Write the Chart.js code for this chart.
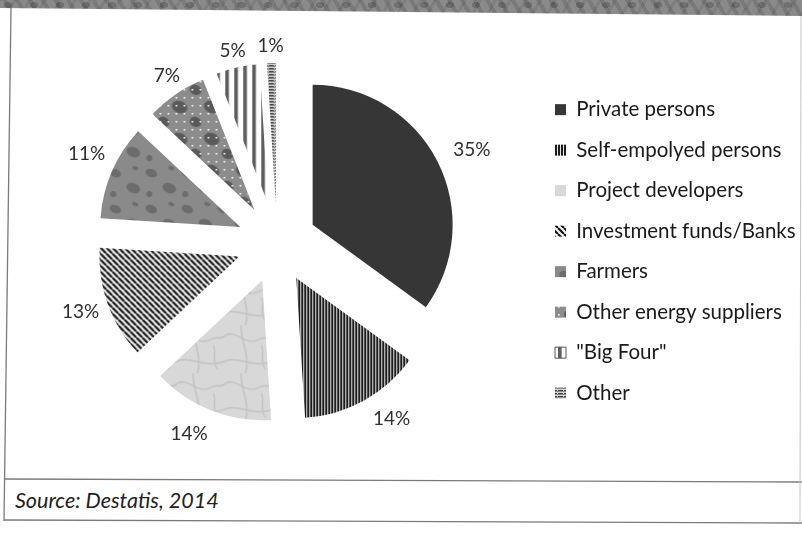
<!DOCTYPE html>
<html>
<head>
<meta charset="utf-8">
<script src="https://cdn.jsdelivr.net/npm/chart.js@4.4.0/dist/chart.umd.min.js"></script>
<style>
  html, body { margin: 0; padding: 0; background: #fff; }
  #page { position: relative; width: 802px; height: 534px; overflow: hidden; background: #fff; font-family: Lato, sans-serif; }
  #band {
    position: absolute; left: 0; top: 0; width: 802px; height: 18px;
    background-color: #8a8a8a;
    background-image:
      radial-gradient(ellipse 7px 5px at 8px 5px, rgba(0,0,0,0.18) 60%, transparent 62%),
      repeating-linear-gradient(60deg, rgba(0,0,0,0.12) 0 4px, transparent 4px 11px),
      repeating-linear-gradient(-60deg, rgba(0,0,0,0.08) 0 3px, transparent 3px 13px);
    background-size: 26px 14px, auto, auto;
    clip-path: polygon(0 0, 100% 0, 100% 16px, 0 8px);
  }
  #frame { position: absolute; left: 0; top: 0; }
  #chart { position: absolute; left: 0; top: 0; }
  #source { position: absolute; left: 15px; top: 487px; font-style: italic; font-size: 21.5px; color: #222; }
</style>
</head>
<body>
<div id="page">
  <div id="band"></div>
  <svg id="frame" width="802" height="534">
    <line x1="11" y1="8" x2="4" y2="521" stroke="#7a7a7a" stroke-width="1.3"/>
    <line x1="4" y1="479" x2="802" y2="482" stroke="#7a7a7a" stroke-width="1.3"/>
    <line x1="4" y1="520" x2="802" y2="523" stroke="#7a7a7a" stroke-width="1.3"/>
    <line x1="801" y1="16" x2="800" y2="523" stroke="#c4c4c4" stroke-width="1"/>
  </svg>
  <canvas id="chart" width="802" height="480"></canvas>
  <div id="source">Source: Destatis, 2014</div>
</div>
<script>
// Ownership of installed renewable capacity, shares in percent
const categories = [
  'Private persons',
  'Self-empolyed persons',
  'Project developers',
  'Investment funds/Banks',
  'Farmers',
  'Other energy suppliers',
  '"Big Four"',
  'Other'
];
const shares = [35, 14, 14, 13, 11, 7, 5, 1];

// small tiles used as fill patterns for the slices
function makePattern(w, h, paint) {
  const c = document.createElement('canvas');
  c.width = w;
  c.height = h;
  const g = c.getContext('2d');
  paint(g, w, h);
  return g.createPattern(c, 'repeat');
}

function blob(g, x, y, rx, ry) {
  g.beginPath();
  g.ellipse(x, y, rx, ry, 0.4, 0, Math.PI * 2);
  g.fill();
}

const solidDark = '#363636';

const vertStripes = makePattern(3, 1, g => {
  g.fillStyle = '#e8e8e8';
  g.fillRect(0, 0, 3, 1);
  g.fillStyle = '#1c1c1c';
  g.fillRect(0, 0, 2, 1);
});

const marble = makePattern(48, 48, g => {
  g.fillStyle = '#d8d8d8';
  g.fillRect(0, 0, 48, 48);
  g.strokeStyle = '#c2c2c2';
  g.lineWidth = 1.4;
  g.beginPath();
  g.moveTo(0, 10); g.bezierCurveTo(12, 4, 20, 22, 34, 14); g.bezierCurveTo(40, 10, 44, 16, 48, 10);
  g.moveTo(16, 0); g.bezierCurveTo(14, 14, 26, 30, 20, 48);
  g.moveTo(0, 36); g.bezierCurveTo(10, 30, 30, 44, 48, 36);
  g.moveTo(36, 20); g.bezierCurveTo(40, 28, 34, 36, 40, 44);
  g.stroke();
});

const diagStripes = makePattern(6, 6, g => {
  g.fillStyle = '#f4f4f4';
  g.fillRect(0, 0, 6, 6);
  g.strokeStyle = '#141414';
  g.lineWidth = 2.2;
  g.beginPath();
  [-6, 0, 6].forEach(k => { g.moveTo(k, 0); g.lineTo(k + 6, 6); });
  g.stroke();
});

const farmerTexture = makePattern(36, 36, g => {
  g.fillStyle = '#8a8a8a';
  g.fillRect(0, 0, 36, 36);
  g.fillStyle = '#6c6c6c';
  blob(g, 8, 9, 6, 4);
  blob(g, 26, 24, 7, 5);
  blob(g, 28, 4, 3, 2);
  blob(g, 6, 30, 3, 3);
});

const dottedTexture = makePattern(32, 32, g => {
  g.fillStyle = '#8c8c8c';
  g.fillRect(0, 0, 32, 32);
  g.fillStyle = '#5a5a5a';
  blob(g, 10, 12, 8, 6);
  blob(g, 26, 27, 6, 5);
  g.fillStyle = '#ffffff';
  for (let y = 2; y < 32; y += 8) {
    const shift = (y / 8) % 2 ? 4 : 0;
    for (let x = 2 + shift; x < 32; x += 8) g.fillRect(x, y, 1.6, 1.6);
  }
});

const wideStripes = makePattern(9, 1, g => {
  g.fillStyle = '#ffffff';
  g.fillRect(0, 0, 9, 1);
  g.fillStyle = '#5e5e5e';
  g.fillRect(0, 0, 3, 1);
  g.fillStyle = '#999999';
  g.fillRect(3, 0, 1, 1);
});

const horizDashes = makePattern(6, 3, g => {
  g.fillStyle = '#d4d4d4';
  g.fillRect(0, 0, 6, 3);
  g.fillStyle = '#3e3e3e';
  g.fillRect(0, 0, 5, 1);
  g.fillStyle = '#8a8a8a';
  g.fillRect(0, 1, 6, 1);
});

const sliceFills = [solidDark, vertStripes, marble, diagStripes, farmerTexture, dottedTexture, wideStripes, horizDashes];

// pull every slice away from the centre by the same distance
const explodePlugin = {
  id: 'explode',
  beforeDatasetDraw(chart, args, opts) {
    const ctx = chart.ctx;
    args.meta.data.forEach(arc => {
      const mid = (arc.startAngle + arc.endAngle) / 2;
      ctx.save();
      ctx.translate(Math.cos(mid) * opts.distance, Math.sin(mid) * opts.distance);
      arc.draw(ctx);
      ctx.restore();
    });
    return false;
  }
};

// percentage labels just outside each exploded slice
const outsideLabels = {
  id: 'outsideLabels',
  afterDatasetsDraw(chart, args, opts) {
    const ctx = chart.ctx;
    const meta = chart.getDatasetMeta(0);
    const values = chart.data.datasets[0].data;
    ctx.save();
    ctx.font = opts.font;
    ctx.fillStyle = opts.color;
    ctx.textAlign = 'center';
    ctx.textBaseline = 'middle';
    meta.data.forEach((arc, i) => {
      const mid = (arc.startAngle + arc.endAngle) / 2;
      const dx = Math.cos(mid);
      const dy = Math.sin(mid);
      const text = values[i] + '%';
      const halfW = ctx.measureText(text).width / 2;
      const r = arc.outerRadius + opts.explode + opts.gap;
      const nudge = opts.nudge[i] || [0, 0];
      const x = arc.x + dx * r + dx * halfW + nudge[0];
      const y = arc.y + dy * r + dy * opts.halfHeight + nudge[1];
      ctx.fillText(text, x, y + 1);
    });
    ctx.restore();
  }
};

new Chart(document.getElementById('chart'), {
  type: 'pie',
  data: {
    labels: categories,
    datasets: [{
      data: shares,
      backgroundColor: sliceFills,
      borderWidth: 0
    }]
  },
  options: {
    responsive: false,
    animation: false,
    radius: 140,
    layout: { padding: { left: 19, right: 0, top: 20, bottom: 14 } },
    plugins: {
      explode: { distance: 40 },
      outsideLabels: {
        explode: 40,
        gap: 10,
        halfHeight: 8,
        font: '19px Lato',
        color: '#2e2e2e',
        // label boxes sit a little off the radial line for a few slices
        nudge: [[9, -4], [14, 1], [-11, 6], [0, 1], [1, -11], [4, -4], [0, 0], [0, 0]]
      },
      tooltip: { enabled: false },
      legend: {
        position: 'right',
        maxWidth: 267,
        title: { display: true, text: '', font: { size: 14 }, padding: 0 },
        labels: {
          boxWidth: 11,
          boxHeight: 11,
          padding: 20,
          color: '#1a1a1a',
          font: { family: 'Lato', size: 20.5 },
          generateLabels(chart) {
            const items = Chart.overrides.pie.plugins.legend.labels.generateLabels(chart);
            // the striped "Big Four" key is drawn with an outline
            items[6].lineWidth = 1;
            items[6].strokeStyle = '#555';
            return items;
          }
        }
      }
    }
  },
  plugins: [explodePlugin, outsideLabels]
});
</script>
</body>
</html>
